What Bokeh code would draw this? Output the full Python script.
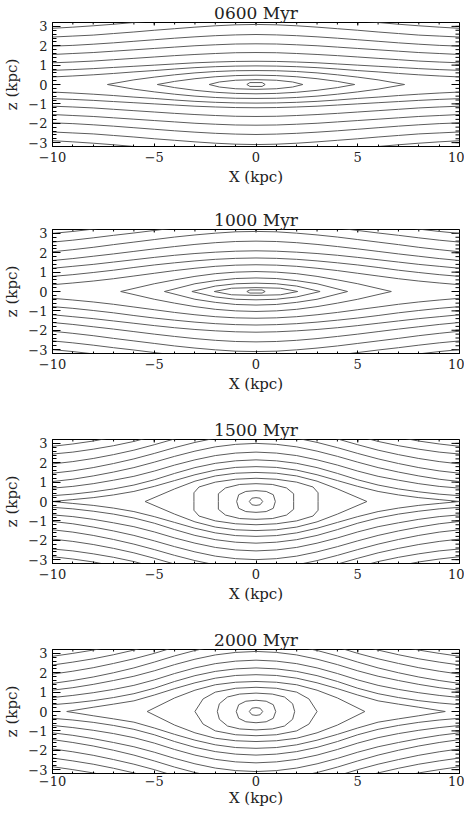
from bokeh.plotting import figure
from bokeh.layouts import column
from bokeh.models import FixedTicker, Range1d
from bokeh.embed import file_html
from bokeh.resources import INLINE

# ---------------- data ----------------
TITLES = ["0600 Myr", "1000 Myr", "1500 Myr", "2000 Myr"]
X_TICKS = [-10, -5, 0, 5, 10]
Y_TICKS = [-3, -2, -1, 0, 1, 2, 3]
X_LABELS = {-10: "\u221210", -5: "\u22125", 0: "0", 5: "5", 10: "10"}
Y_LABELS = {-3: "\u22123", -2: "\u22122", -1: "\u22121", 0: "0", 1: "1", 2: "2", 3: "3"}
X_MINOR = [-10, -9, -8, -7, -6, -5, -4, -3, -2, -1, 0, 1, 2, 3, 4, 5, 6, 7, 8, 9, 10]
Y_MINOR = [-3.2, -3.0, -2.8, -2.6, -2.4, -2.2, -2.0, -1.8, -1.6, -1.4, -1.2, -1.0,
           -0.8, -0.6, -0.4, -0.2, 0.0, 0.2, 0.4, 0.6, 0.8, 1.0, 1.2, 1.4, 1.6,
           1.8, 2.0, 2.2, 2.4, 2.6, 2.8, 3.0, 3.2]

# sample positions (kpc) along X for the open contours (upper-right quadrant)
XG = [0, 1, 2, 3, 4, 5, 6, 7, 8, 9, 10]

# ---- 0600 Myr ----
P1_CLOSED_X = [[0, 0.3, 0.45],
               [0, 1.0, 1.8, 2.3],
               [0, 1, 2, 3, 4, 4.85],
               [0, 1, 2, 3, 4, 5, 6, 7.3]]
P1_CLOSED_Z = [[0.1, 0.1, 0.0],
               [0.25, 0.22, 0.13, 0.0],
               [0.48, 0.46, 0.4, 0.3, 0.16, 0.0],
               [0.72, 0.71, 0.67, 0.6, 0.5, 0.38, 0.24, 0.0]]
P1_OPEN = [[0.96, 0.95, 0.92, 0.87, 0.8, 0.72, 0.65, 0.57, 0.5, 0.44, 0.39],
           [1.2, 1.19, 1.16, 1.12, 1.06, 1.0, 0.94, 0.88, 0.82, 0.77, 0.73],
           [1.65, 1.64, 1.6, 1.55, 1.49, 1.42, 1.35, 1.28, 1.21, 1.16, 1.12],
           [2.1, 2.09, 2.05, 2.0, 1.93, 1.86, 1.79, 1.72, 1.65, 1.6, 1.55],
           [2.58, 2.56, 2.52, 2.46, 2.39, 2.31, 2.23, 2.15, 2.08, 2.02, 1.98],
           [3.1, 3.08, 3.03, 2.96, 2.88, 2.8, 2.71, 2.63, 2.55, 2.5, 2.45],
           [3.6, 3.58, 3.53, 3.46, 3.38, 3.29, 3.2, 3.11, 3.03, 2.96, 2.9]]

# ---- 1000 Myr ----
P2_CLOSED_X = [[0, 0.3, 0.45],
               [0, 1.2, 2.05],
               [0, 1, 2, 3.15],
               [0, 1, 2, 3, 4.5],
               [0, 1, 2, 3, 4, 5, 6.65]]
P2_CLOSED_Z = [[0.08, 0.08, 0.0],
               [0.2, 0.17, 0.0],
               [0.43, 0.4, 0.28, 0.0],
               [0.7, 0.67, 0.56, 0.4, 0.0],
               [1.03, 1.0, 0.92, 0.78, 0.6, 0.4, 0.0]]
P2_OPEN = [[1.38, 1.36, 1.3, 1.2, 1.08, 0.94, 0.8, 0.66, 0.54, 0.44, 0.35],
           [1.73, 1.71, 1.66, 1.58, 1.48, 1.37, 1.24, 1.1, 0.98, 0.87, 0.78],
           [2.1, 2.08, 2.03, 1.96, 1.87, 1.76, 1.64, 1.52, 1.4, 1.3, 1.2],
           [2.6, 2.58, 2.52, 2.43, 2.32, 2.2, 2.07, 1.94, 1.82, 1.7, 1.6],
           [3.1, 3.08, 3.01, 2.92, 2.81, 2.68, 2.55, 2.42, 2.28, 2.16, 2.05],
           [3.6, 3.58, 3.5, 3.4, 3.28, 3.15, 3.02, 2.9, 2.77, 2.65, 2.55],
           [4.0, 3.98, 3.9, 3.8, 3.7, 3.6, 3.48, 3.35, 3.22, 3.1, 3.0]]

# ---- 1500 Myr ----
P3_CLOSED_X = [[0, 0.2, 0.33],
               [0, 0.5, 0.85, 0.95],
               [0, 0.8, 1.5, 1.85, 1.85],
               [0, 1, 2, 2.8, 3.05, 3.05],
               [0, 1, 2, 3, 4, 5.45],
               [0, 1, 2, 3, 4, 5, 6, 7, 8, 9, 10]]
P3_CLOSED_Z = [[0.2, 0.17, 0.0],
               [0.56, 0.52, 0.35, 0.0],
               [0.92, 0.88, 0.7, 0.4, 0.0],
               [1.2, 1.15, 1.0, 0.75, 0.45, 0.0],
               [1.5, 1.46, 1.32, 1.05, 0.65, 0.0],
               [1.8, 1.76, 1.62, 1.38, 1.08, 0.78, 0.52, 0.34, 0.2, 0.1, 0.0]]
P3_OPEN = [[2.15, 2.1, 1.97, 1.75, 1.45, 1.12, 0.85, 0.65, 0.5, 0.38, 0.3],
           [2.55, 2.5, 2.37, 2.15, 1.88, 1.57, 1.3, 1.1, 0.92, 0.78, 0.69],
           [3.0, 2.95, 2.82, 2.6, 2.33, 2.03, 1.75, 1.52, 1.32, 1.15, 1.03],
           [3.45, 3.4, 3.27, 3.05, 2.78, 2.48, 2.2, 1.96, 1.75, 1.58, 1.46],
           [3.9, 3.85, 3.72, 3.5, 3.23, 2.93, 2.65, 2.42, 2.22, 2.06, 1.94],
           [4.35, 4.3, 4.17, 3.95, 3.68, 3.38, 3.1, 2.88, 2.7, 2.55, 2.45],
           [4.8, 4.75, 4.62, 4.4, 4.13, 3.83, 3.55, 3.32, 3.12, 2.97, 2.85]]

# ---- 2000 Myr ----
P4_CLOSED_X = [[0, 0.2, 0.33],
               [0, 0.5, 0.85, 0.97],
               [0, 0.8, 1.4, 1.8, 1.9],
               [0, 1, 2, 2.6, 3.0],
               [0, 1, 2, 3, 4, 5.35],
               [0, 1, 2, 3, 4, 5, 6, 7, 8, 9.3]]
P4_CLOSED_Z = [[0.2, 0.17, 0.0],
               [0.58, 0.53, 0.35, 0.0],
               [0.95, 0.9, 0.75, 0.4, 0.0],
               [1.25, 1.2, 1.0, 0.65, 0.0],
               [1.55, 1.51, 1.38, 1.1, 0.7, 0.0],
               [1.9, 1.86, 1.72, 1.48, 1.18, 0.85, 0.55, 0.38, 0.22, 0.0]]
P4_OPEN = [[2.25, 2.2, 2.07, 1.85, 1.55, 1.2, 0.92, 0.72, 0.56, 0.44, 0.35],
           [2.65, 2.6, 2.47, 2.25, 1.96, 1.63, 1.35, 1.14, 0.97, 0.83, 0.72],
           [3.1, 3.05, 2.92, 2.7, 2.42, 2.1, 1.82, 1.6, 1.4, 1.23, 1.1],
           [3.55, 3.5, 3.37, 3.15, 2.87, 2.55, 2.25, 2.0, 1.78, 1.6, 1.45],
           [4.0, 3.95, 3.82, 3.6, 3.32, 3.0, 2.72, 2.48, 2.26, 2.08, 1.93],
           [4.45, 4.4, 4.27, 4.05, 3.77, 3.45, 3.17, 2.93, 2.72, 2.55, 2.4],
           [4.9, 4.85, 4.72, 4.5, 4.22, 3.9, 3.62, 3.38, 3.17, 3.0, 2.85]]

PANELS = [(P1_CLOSED_X, P1_CLOSED_Z, P1_OPEN),
          (P2_CLOSED_X, P2_CLOSED_Z, P2_OPEN),
          (P3_CLOSED_X, P3_CLOSED_Z, P3_OPEN),
          (P4_CLOSED_X, P4_CLOSED_Z, P4_OPEN)]

# ---------------- layout / style ----------------
FONT = "DejaVu Serif"
LINE = "#5c5c5c"
TXT = "#222222"
X0, X1 = -10, 10
Y0, Y1 = -3.2, 3.2
FRAME_W, FRAME_H = 407, 124
BOTTOMS = [61, 64, 64, 35]
XT_LEN, XT_MIN = 3, 2      # px, ticks on the horizontal edges
YT_LEN, YT_MIN = 8, 4      # px, ticks on the vertical edges


def open_lines(h):
    xs = [-x for x in reversed(XG[1:])] + XG
    zs = list(reversed(h[1:])) + h
    return [xs, xs], [zs, [-z for z in zs]]


def closed_loop(cx, cz):
    ux = [-x for x in reversed(cx)] + cx[1:]
    uz = list(reversed(cz)) + cz[1:]
    lx = list(reversed(ux))
    lz = [-z for z in reversed(uz)]
    return ux + lx[1:], uz + lz[1:]


def style_axis(ax, ticks, labels, minor, tick_in, minor_in):
    ax.ticker = FixedTicker(ticks=ticks, minor_ticks=minor)
    ax.major_tick_in = tick_in
    ax.major_tick_out = 0
    ax.minor_tick_in = minor_in
    ax.minor_tick_out = 0
    ax.major_tick_line_color = "black"
    ax.minor_tick_line_color = "black"
    ax.axis_line_color = "black"
    ax.major_label_overrides = labels
    ax.major_label_text_font = FONT
    ax.major_label_text_font_size = "13px"
    ax.major_label_text_color = TXT
    ax.axis_label_text_font = FONT
    ax.axis_label_text_font_style = "normal"
    ax.axis_label_text_font_size = "15px"
    ax.axis_label_text_color = TXT


figs = []
for k, (cxs, czs, opens) in enumerate(PANELS):
    p = figure(frame_width=FRAME_W, frame_height=FRAME_H,
               x_range=Range1d(X0, X1), y_range=Range1d(Y0, Y1),
               output_backend="svg", toolbar_location=None,
               min_border_left=48, min_border_right=5,
               min_border_top=20, min_border_bottom=BOTTOMS[k])
    p.grid.visible = False
    p.outline_line_color = "black"
    p.outline_line_width = 1
    p.background_fill_color = "white"
    p.border_fill_color = "white"

    p.title.text = TITLES[k]
    p.title.align = "center"
    p.title.text_font = FONT
    p.title.text_font_style = "normal"
    p.title.text_font_size = "17px"
    p.title.text_color = TXT
    p.title.standoff = 0
    p.title.offset = 0

    style_axis(p.xaxis[0], X_TICKS, X_LABELS, X_MINOR, XT_LEN, XT_MIN)
    style_axis(p.yaxis[0], Y_TICKS, Y_LABELS, Y_MINOR, YT_LEN, YT_MIN)
    p.xaxis[0].axis_label = "X (kpc)"
    p.yaxis[0].axis_label = "z (kpc)"
    p.xaxis[0].major_label_standoff = 5 if k < 3 else 2
    p.xaxis[0].axis_label_standoff = 3 if k < 3 else 0
    p.yaxis[0].major_label_standoff = 5
    p.yaxis[0].axis_label_standoff = 4

    # mirrored ticks on the top and right edges of the frame
    dy = (Y1 - Y0) / FRAME_H
    dx = (X1 - X0) / FRAME_W
    tx = X_TICKS + X_MINOR
    tl = [XT_LEN * dy] * len(X_TICKS) + [XT_MIN * dy] * len(X_MINOR)
    p.segment(x0=tx, y0=[Y1] * len(tx), x1=tx, y1=[Y1 - l for l in tl],
              line_color="black", line_width=1)
    ty = Y_TICKS + Y_MINOR
    ll = [YT_LEN * dx] * len(Y_TICKS) + [YT_MIN * dx] * len(Y_MINOR)
    p.segment(x0=[X1] * len(ty), y0=ty, x1=[X1 - l for l in ll], y1=ty,
              line_color="black", line_width=1)

    # closed contours
    cl_x, cl_z = [], []
    for cx, cz in zip(cxs, czs):
        lx, lz = closed_loop(cx, cz)
        cl_x.append(lx)
        cl_z.append(lz)
    p.multi_line(cl_x, cl_z, line_color=LINE, line_width=1)

    # open contours (upper and lower branch)
    op_x, op_z = [], []
    for h in opens:
        xs, zs = open_lines(h)
        op_x += xs
        op_z += zs
    p.multi_line(op_x, op_z, line_color=LINE, line_width=1)

    figs.append(p)

layout = column(*figs, spacing=0)
open("out.html", "w").write(file_html(layout, INLINE))
